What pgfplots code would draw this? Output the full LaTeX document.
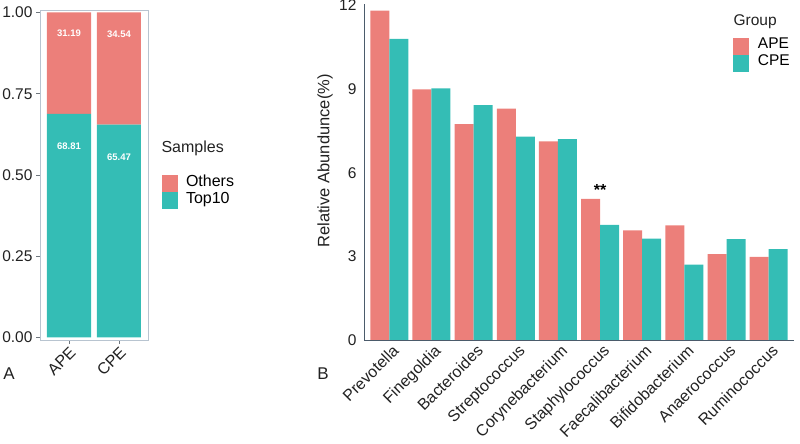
\documentclass[border=0pt]{standalone}
\usepackage{pgfplots}
\pgfplotsset{compat=1.18}
\usepackage{fontspec}
\setmainfont{Liberation Sans}
\definecolor{cpink}{HTML}{EC7F7A}
\definecolor{cteal}{HTML}{34BDB5}
\definecolor{frameA}{HTML}{B8C4D0}
\definecolor{axisB}{HTML}{4B5B6B}
\definecolor{tickc}{HTML}{222222}
\begin{document}
\begin{tikzpicture}
\useasboundingbox (0pt,0pt) rectangle (800pt,444pt);
% ---------- Panel A ----------
\begin{axis}[
  at={(40pt,104pt)}, anchor=south west, scale only axis,
  width=108pt, height=330pt,
  xmin=0.42, xmax=2.58, ymin=-0.0083, ymax=1.0077,
  ybar stacked, bar width=44pt,
  axis line style={frameA, line width=0.8pt},
  xtick={1,2}, xticklabels={APE,CPE},
  ytick={0,0.25,0.5,0.75,1},
  yticklabels={0.00,0.25,0.50,0.75,1.00},
  tick style={frameA!60!black, line width=0.6pt},
  major tick length=4pt,
  tick align=outside, xtick pos=bottom, ytick pos=left,
  /pgf/number format/assume math mode=true,
  yticklabel style={font=\fontsize{15.5}{17}\selectfont, text=tickc, xshift=0pt},
  xticklabel style={font=\fontsize{16}{18}\selectfont, text=tickc, rotate=45, anchor=north east, inner sep=1pt},
  legend style={at={(1.13,0.5)}, anchor=north west, draw=none, fill=none,
    inner sep=0pt, outer sep=0pt, row sep=0pt,
    font=\fontsize{16}{18}\selectfont,
    nodes={inner sep=0pt, text height=11pt, text depth=4pt}},
  legend cell align=left,
  reverse legend,
]
\addplot[fill=cteal, draw=none, area legend,
  legend image code/.code={\fill[cteal] (0pt,-8.5pt) rectangle (16pt,8.5pt);}]
  coordinates {(1,0.6881) (2,0.6547)};
\addplot[fill=cpink, draw=none, area legend,
  legend image code/.code={\fill[cpink] (0pt,-8.5pt) rectangle (16pt,8.5pt);}]
  coordinates {(1,0.3119) (2,0.3453)};
\legend{\hspace{8pt}Top10,\hspace{8pt}Others}
\coordinate (l1) at (axis cs:1,0.937);
\coordinate (l2) at (axis cs:2,0.932);
\coordinate (l3) at (axis cs:1,0.589);
\coordinate (l4) at (axis cs:2,0.555);
\end{axis}
\node[text=white, font=\bfseries\fontsize{9.5}{10}\selectfont] at (l1) {31.19};
\node[text=white, font=\bfseries\fontsize{9.5}{10}\selectfont] at (l2) {34.54};
\node[text=white, font=\bfseries\fontsize{9.5}{10}\selectfont] at (l3) {68.81};
\node[text=white, font=\bfseries\fontsize{9.5}{10}\selectfont] at (l4) {65.47};
\node[anchor=west, font=\fontsize{16}{18}\selectfont, text=tickc] at (158pt,296pt) {Samples};
\node[font=\fontsize{17}{19}\selectfont, text=tickc] at (9pt,70pt) {A};
% ---------- Panel B ----------
\begin{axis}[
  at={(364pt,104pt)}, anchor=south west, scale only axis,
  width=430pt, height=336pt,
  xmin=0.4, xmax=10.6, ymin=0, ymax=12.05,
  axis x line*=bottom, axis y line*=left,
  axis line style={axisB, line width=0.9pt, -},
  ybar, bar width=19pt,
  xtick={1,...,10},
  xticklabels={Prevotella,Finegoldia,Bacteroides,Streptococcus,Corynebacterium,Staphylococcus,Faecalibacterium,Bifidobacterium,Anaerococcus,Ruminococcus},
  ytick={0,3,6,9,12},
  major tick length=0pt,
  /pgf/number format/assume math mode=true,
  yticklabel style={font=\fontsize{15.5}{17}\selectfont, text=tickc, xshift=-4pt},
  xticklabel style={font=\fontsize{16}{18}\selectfont, text=tickc, rotate=45, anchor=north east, inner sep=1pt, yshift=-3pt},
  ylabel={Relative Abundunce(\%)},
  ylabel style={at={(axis description cs:-0.0907,0.533)}, anchor=center, font=\fontsize{16.5}{18}\selectfont, text=tickc},
  legend style={at={(0.858,0.9)}, anchor=north west, draw=none, fill=none,
    inner sep=0pt, outer sep=0pt, row sep=0pt,
    font=\fontsize{15.5}{17}\selectfont,
    nodes={inner sep=0pt, text height=11pt, text depth=6pt}},
  legend cell align=left,
]
\addplot[fill=cpink, draw=none, bar shift=-9.5pt, area legend,
  legend image code/.code={\fill[cpink] (0pt,-8.5pt) rectangle (16pt,8.5pt);}]
  coordinates {(1,11.81) (2,8.99) (3,7.74) (4,8.30) (5,7.12) (6,5.06) (7,3.93) (8,4.11) (9,3.08) (10,2.98)};
\addplot[fill=cteal, draw=none, bar shift=9.5pt, area legend,
  legend image code/.code={\fill[cteal] (0pt,-8.5pt) rectangle (16pt,8.5pt);}]
  coordinates {(1,10.80) (2,9.02) (3,8.42) (4,7.29) (5,7.20) (6,4.13) (7,3.64) (8,2.70) (9,3.62) (10,3.26)};
\legend{\hspace{9pt}APE,\hspace{9pt}CPE}
\node[font=\bfseries\fontsize{16}{16}\selectfont] at (axis cs:6,5.38) {**};
\end{axis}
\node[anchor=west, font=\fontsize{15.5}{17}\selectfont, text=tickc] at (730pt,422pt) {Group};
\node[font=\fontsize{17}{19}\selectfont, text=tickc] at (323pt,70pt) {B};
\end{tikzpicture}
\end{document}
